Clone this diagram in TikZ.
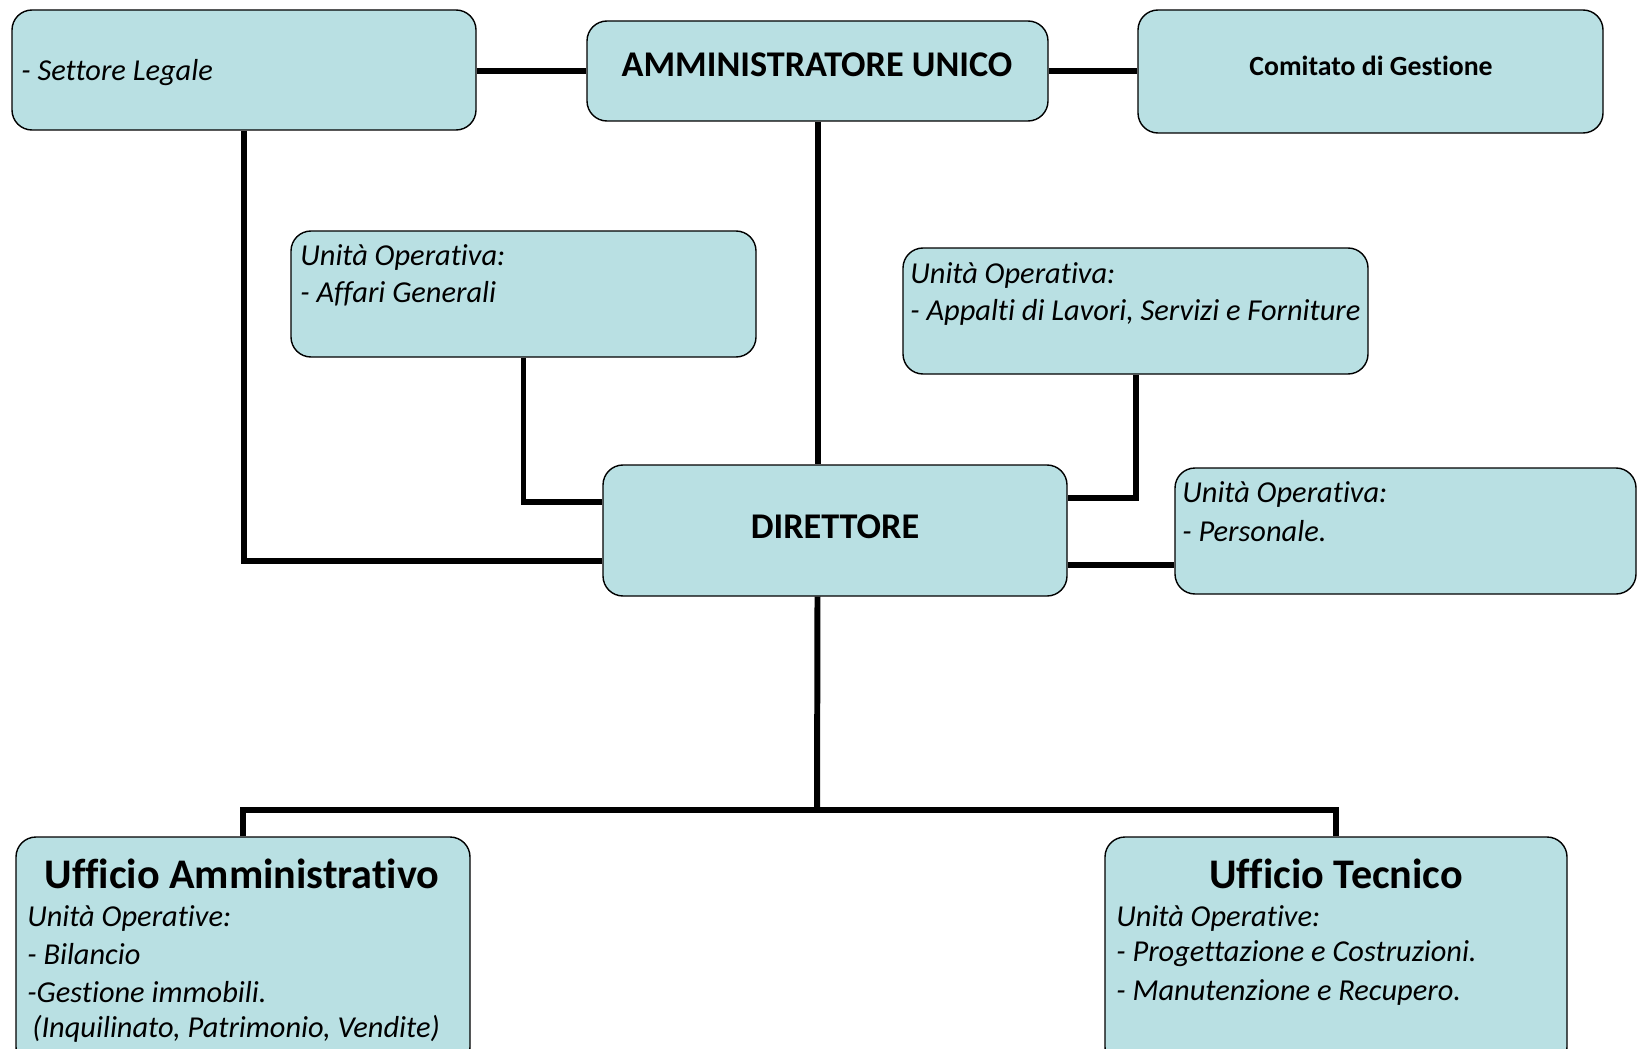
\documentclass[tikz,border=0pt]{standalone}
\usepackage{fontspec}
\setmainfont{Carlito}[Ligatures={NoCommon}]
\usetikzlibrary{positioning}
\definecolor{boxfill}{RGB}{185,224,227}

\begin{document}
\begin{tikzpicture}[scale=1.0000]
	\tikzstyle{every node}=[scale=1.0000]
	\tikzstyle{box}=[draw, rounded corners=0.4cm, fill=boxfill, line width=0.8pt, inner sep=0pt]
	\tikzstyle{link}=[line width=3.4pt]
	\tikzstyle{head}=[font=\fontsize{20.6}{24}\selectfont\bfseries]
	\tikzstyle{title}=[font=\fontsize{24}{28}\selectfont\bfseries]
	\tikzstyle{item}=[right, inner sep=0pt, font=\fontsize{17.3}{21}\selectfont\itshape]

	\useasboundingbox (0.0000,0.0000) rectangle (32.7400,-20.9600);

	%% boxes
	\node [box, minimum width=9.28cm, minimum height=2.40cm] (legale) at (4.8800,-1.4000) {};
	\node [box, minimum width=9.22cm, minimum height=2.00cm] (amm) at (16.3500,-1.4200) {};
	\node [box, minimum width=9.30cm, minimum height=2.46cm] (comitato) at (27.4100,-1.4300) {};
	\node [box, minimum width=9.30cm, minimum height=2.52cm] (affari) at (10.4700,-5.8800) {};
	\node [box, minimum width=9.30cm, minimum height=2.52cm] (appalti) at (22.7100,-6.2200) {};
	\node [box, minimum width=9.28cm, minimum height=2.62cm] (direttore) at (16.7000,-10.6100) {};
	\node [box, minimum width=9.22cm, minimum height=2.52cm] (personale) at (28.1100,-10.6200) {};
	\node [box, minimum width=9.08cm, minimum height=4.60cm] (uffamm) at (4.8600,-19.0400) {};
	\node [box, minimum width=9.24cm, minimum height=4.60cm] (ufftec) at (26.7200,-19.0400) {};

	%% texts
	\node [item] (legale1) at (0.4200,-1.4600) {- Settore Legale};
	\node [head] (ammtxt) at (16.3400,-1.3000) {AMMINISTRATORE UNICO};
	\node [head, font=\fontsize{15.8}{19}\selectfont\bfseries] (comitatotxt) at (27.4200,-1.3200) {Comitato di Gestione};
	\node [item] (affari1) at (6.0000,-5.1400) {Unità Operativa:};
	\node [item] (affari2) at (6.0000,-5.8800) {- Affari Generali};
	\node [item] (appalti1) at (18.2000,-5.5000) {Unità Operativa:};
	\node [item] (appalti2) at (18.2000,-6.2400) {- Appalti di Lavori, Servizi e Forniture};
	\node [head] (direttoretxt) at (16.7000,-10.5400) {DIRETTORE};
	\node [item] (personale1) at (23.6400,-9.8800) {Unità Operativa:};
	\node [item] (personale2) at (23.6400,-10.6200) {- Personale.};
	\node [title] (uffammtxt) at (4.8400,-17.4800) {Ufficio Amministrativo};
	\node [item] (uffamm1) at (0.5400,-18.3600) {Unità Operative:};
	\node [item] (uffamm2) at (0.5400,-19.0800) {- Bilancio};
	\node [item] (uffamm3) at (0.5400,-19.8400) {-Gestione immobili.};
	\node [item] (uffamm4) at (0.6400,-20.5800) {(Inquilinato, Patrimonio, Vendite)};
	\node [title] (ufftectxt) at (26.7200,-17.4800) {Ufficio Tecnico};
	\node [item] (ufftec1) at (22.3200,-18.3600) {Unità Operative:};
	\node [item] (ufftec2) at (22.3200,-19.0800) {- Progettazione e Costruzioni.};
	\node [item] (ufftec3) at (22.3200,-19.8400) {- Manutenzione e Recupero.};

	%% links
	\coordinate (dirL1) at ([yshift=0.57cm]direttore.west);
	\coordinate (dirL2) at ([yshift=-0.61cm]direttore.west);
	\coordinate (dirR1) at ([yshift=0.65cm]direttore.east);
	\coordinate (dirR2) at ([yshift=-0.69cm]direttore.east);
	\coordinate (split) at (16.3400,-16.2000);
	\draw [link] (amm.west -| legale.east) -- (amm.west);
	\draw [link] (amm.east) -- (amm.east -| comitato.west);
	\draw [link] (amm.south) -- (amm.south |- direttore.north);
	\draw [link] (legale.south) |- (dirL2);
	\draw [link] (affari.south) |- (dirL1);
	\draw [link] (appalti.south) |- (dirR1);
	\draw [link] (dirR2) -- (dirR2 -| personale.west);
	\draw [link] (amm.south |- direttore.south) -- (split);
	\draw [link] (uffamm.north) |- (split) -| (ufftec.north);

\end{tikzpicture}
\end{document}
